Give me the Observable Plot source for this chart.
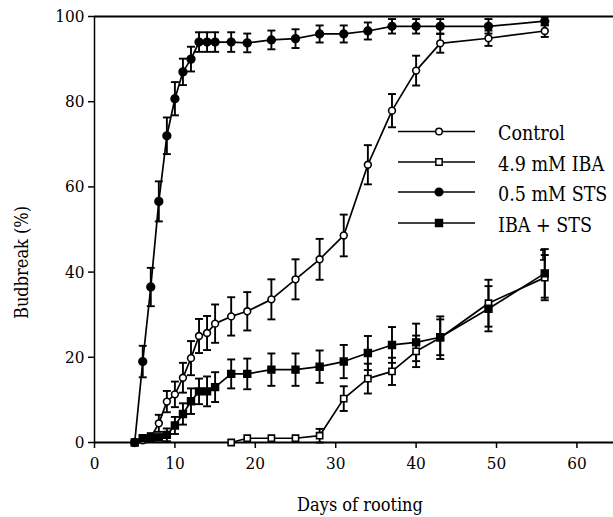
<!DOCTYPE html>
<html>
<head>
<meta charset="utf-8">
<script src="https://cdn.jsdelivr.net/npm/d3@7"></script>
<script src="https://cdn.jsdelivr.net/npm/@observablehq/plot@0.6"></script>
<style>
  html, body { margin: 0; padding: 0; background: #fff; }
  #wrap { position: relative; width: 613px; height: 517px; }
  #legend { position: absolute; left: 0; top: 0; pointer-events: none; }
</style>
</head>
<body>
<div id="wrap"></div>
<script>
// ---- data ----
const seriesNames = ["Control", "4.9 mM IBA", "0.5 mM STS", "IBA + STS"];

const controlDays = [5,6,7,8,9,10,11,12,13,14,15,17,19,22,25,28,31,34,37,40,43,49,56];
const controlVals = [0,0.5,1.2,4.5,9.6,11.3,15.2,19.8,25,25.7,27.9,29.6,30.8,33.6,38.3,43,48.6,65.2,77.9,87.3,93.7,94.9,96.6];
const controlErr  = [0,0.5,1,2,2.5,3,3.5,4,4,4,4.5,4.5,4.5,4.7,4.7,4.8,4.9,4.6,3.9,3.5,2.2,1.8,1.4];

const ibaDays = [17,19,22,25,28,31,34,37,40,43,49,56];
const ibaVals = [0,1,1,1,1.6,10.3,15,16.7,21.4,24.6,32.7,38.7];
const ibaErr  = [0,0.3,0.3,0.3,1.6,2.9,3.5,3.2,3.7,5,5.5,5.3];

const stsDays = [5,6,7,8,9,10,11,12,13,14,15,17,19,22,25,28,31,34,37,40,43,49,56];
const stsVals = [0,19,36.5,56.6,72,80.7,87,90,94,94,94,94,93.8,94.5,94.8,95.9,95.9,96.6,97.7,97.7,97.7,97.7,98.9];
const stsErr  = [0,3.7,4.5,4.7,4.3,3.9,3.1,2.9,2.3,2.3,2.3,2.3,2.2,2.2,2.2,2,2,2,1.7,1.7,1.7,1.7,1];

const bothDays = [5,6,7,8,9,10,11,12,13,14,15,17,19,22,25,28,31,34,37,40,43,49,56];
const bothVals = [0,1,1,1.2,1.8,4,6.7,9.7,12,12,13,16.1,16.1,17.1,17.1,17.8,19,21,22.9,23.5,24.7,31.4,39.7];
const bothErr  = [0,0.5,0.5,0.7,1.5,2,2.5,3,3,3.5,3.5,3.4,3.6,3.8,3.8,3.8,3.9,4,4.2,4.4,4.2,5.3,5.7];

const xTicks = [0,10,20,30,40,50,60];
const yTicks = [0,20,40,60,80,100];
const xTitle = "Days of rooting";
const yTitle = "Budbreak (%)";

// ---- build table ----
function rows(name, days, vals, errs) {
  return days.map((d, i) => ({series: name, day: d, v: vals[i], e: errs[i]}));
}
const control = rows(seriesNames[0], controlDays, controlVals, controlErr);
const iba = rows(seriesNames[1], ibaDays, ibaVals, ibaErr);
const sts = rows(seriesNames[2], stsDays, stsVals, stsErr);
const both = rows(seriesNames[3], bothDays, bothVals, bothErr);
const all = [...control, ...iba, ...sts, ...both];
const withErr = all.filter(d => d.e > 0.4);

const capSymbol = {
  draw(context, size) {
    const w = Math.sqrt(size / Math.PI);
    context.moveTo(-w, 0);
    context.lineTo(w, 0);
  }
};

const FONT = "'DejaVu Serif Condensed', 'DejaVu Serif', serif";

const chart = Plot.plot({
  width: 613,
  height: 517,
  marginLeft: 94,
  marginRight: 0,
  marginTop: 16,
  marginBottom: 75,
  style: {fontSize: "17px", background: "white", color: "black", overflow: "visible"},
  x: {domain: [0, 64.55]},
  y: {domain: [0, 100]},
  marks: [
    Plot.ruleY([0, 100], {stroke: "black", strokeWidth: 2}),
    Plot.ruleX([0], {stroke: "black", strokeWidth: 1.5}),
    Plot.axisY({ticks: yTicks, tickSize: 6, tickPadding: 4, label: null, fontSize: 17, strokeWidth: 1.5}),
    Plot.axisX({ticks: xTicks, tickSize: 6, tickPadding: 8, label: null, fontSize: 17, strokeWidth: 1.5}),
    Plot.text([xTitle], {frameAnchor: "bottom", dx: 6, dy: 63, fontSize: 18, lineAnchor: "middle", textAnchor: "middle"}),
    Plot.text([yTitle], {frameAnchor: "left", dx: -72, dy: 33, rotate: -90, fontSize: 18, textAnchor: "middle", lineAnchor: "middle"}),
    Plot.line(all, {x: "day", y: "v", z: "series", stroke: "black", strokeWidth: 1.7}),
    Plot.ruleX(withErr, {x: "day", y1: d => d.v - d.e, y2: d => d.v + d.e, stroke: "black", strokeWidth: 1.9}),
    Plot.dot(withErr, {x: "day", y: d => d.v + d.e, symbol: capSymbol, r: 4, stroke: "black", strokeWidth: 1.9}),
    Plot.dot(withErr, {x: "day", y: d => d.v - d.e, symbol: capSymbol, r: 4, stroke: "black", strokeWidth: 1.9}),
    Plot.dot(control, {x: "day", y: "v", r: 3.4, fill: "white", stroke: "black", strokeWidth: 1.6}),
    Plot.dot(iba, {x: "day", y: "v", symbol: "square", r: 3.5, fill: "white", stroke: "black", strokeWidth: 1.6}),
    Plot.dot(sts, {x: "day", y: "v", r: 3.9, fill: "black", stroke: "black"}),
    Plot.dot(both, {x: "day", y: "v", symbol: "square", r: 3.9, fill: "black", stroke: "black"})
  ]
});
document.getElementById("wrap").appendChild(chart);
d3.select(chart).selectAll("text").style("font-family", FONT);

// ---- legend (inside the plot area) ----
const legendSymbols = [
  {sym: d3.symbolCircle, fill: "white", size: Math.PI * 3.3 * 3.3},
  {sym: d3.symbolSquare, fill: "white", size: 40},
  {sym: d3.symbolCircle, fill: "black", size: Math.PI * 3.8 * 3.8},
  {sym: d3.symbolSquare, fill: "black", size: 48}
];
const lg = d3.select("#wrap").append("svg")
  .attr("id", "legend").attr("width", 613).attr("height", 517);
const rowY = [131.5, 162, 192, 223];
seriesNames.forEach((name, i) => {
  const g = lg.append("g").attr("transform", `translate(0,${rowY[i]})`);
  g.append("line").attr("x1", 398).attr("x2", 475).attr("y1", 0).attr("y2", 0)
    .attr("stroke", "black").attr("stroke-width", 1.6);
  g.append("path").attr("d", d3.symbol(legendSymbols[i].sym, legendSymbols[i].size)())
    .attr("transform", "translate(439,0)")
    .attr("fill", legendSymbols[i].fill).attr("stroke", "black").attr("stroke-width", 1.5);
  g.append("text").attr("x", 498).attr("y", 2).attr("dominant-baseline", "central")
    .attr("font-size", 19.5).style("font-family", FONT).text(name);
});
// representative SE bar
const se = lg.append("g").attr("stroke", "black").attr("stroke-width", 1.6);
se.append("line").attr("x1", 543).attr("x2", 543).attr("y1", 250).attr("y2", 260);
se.append("line").attr("x1", 540).attr("x2", 546).attr("y1", 250).attr("y2", 250);
se.append("line").attr("x1", 540).attr("x2", 546).attr("y1", 260).attr("y2", 260);
</script>
</body>
</html>
